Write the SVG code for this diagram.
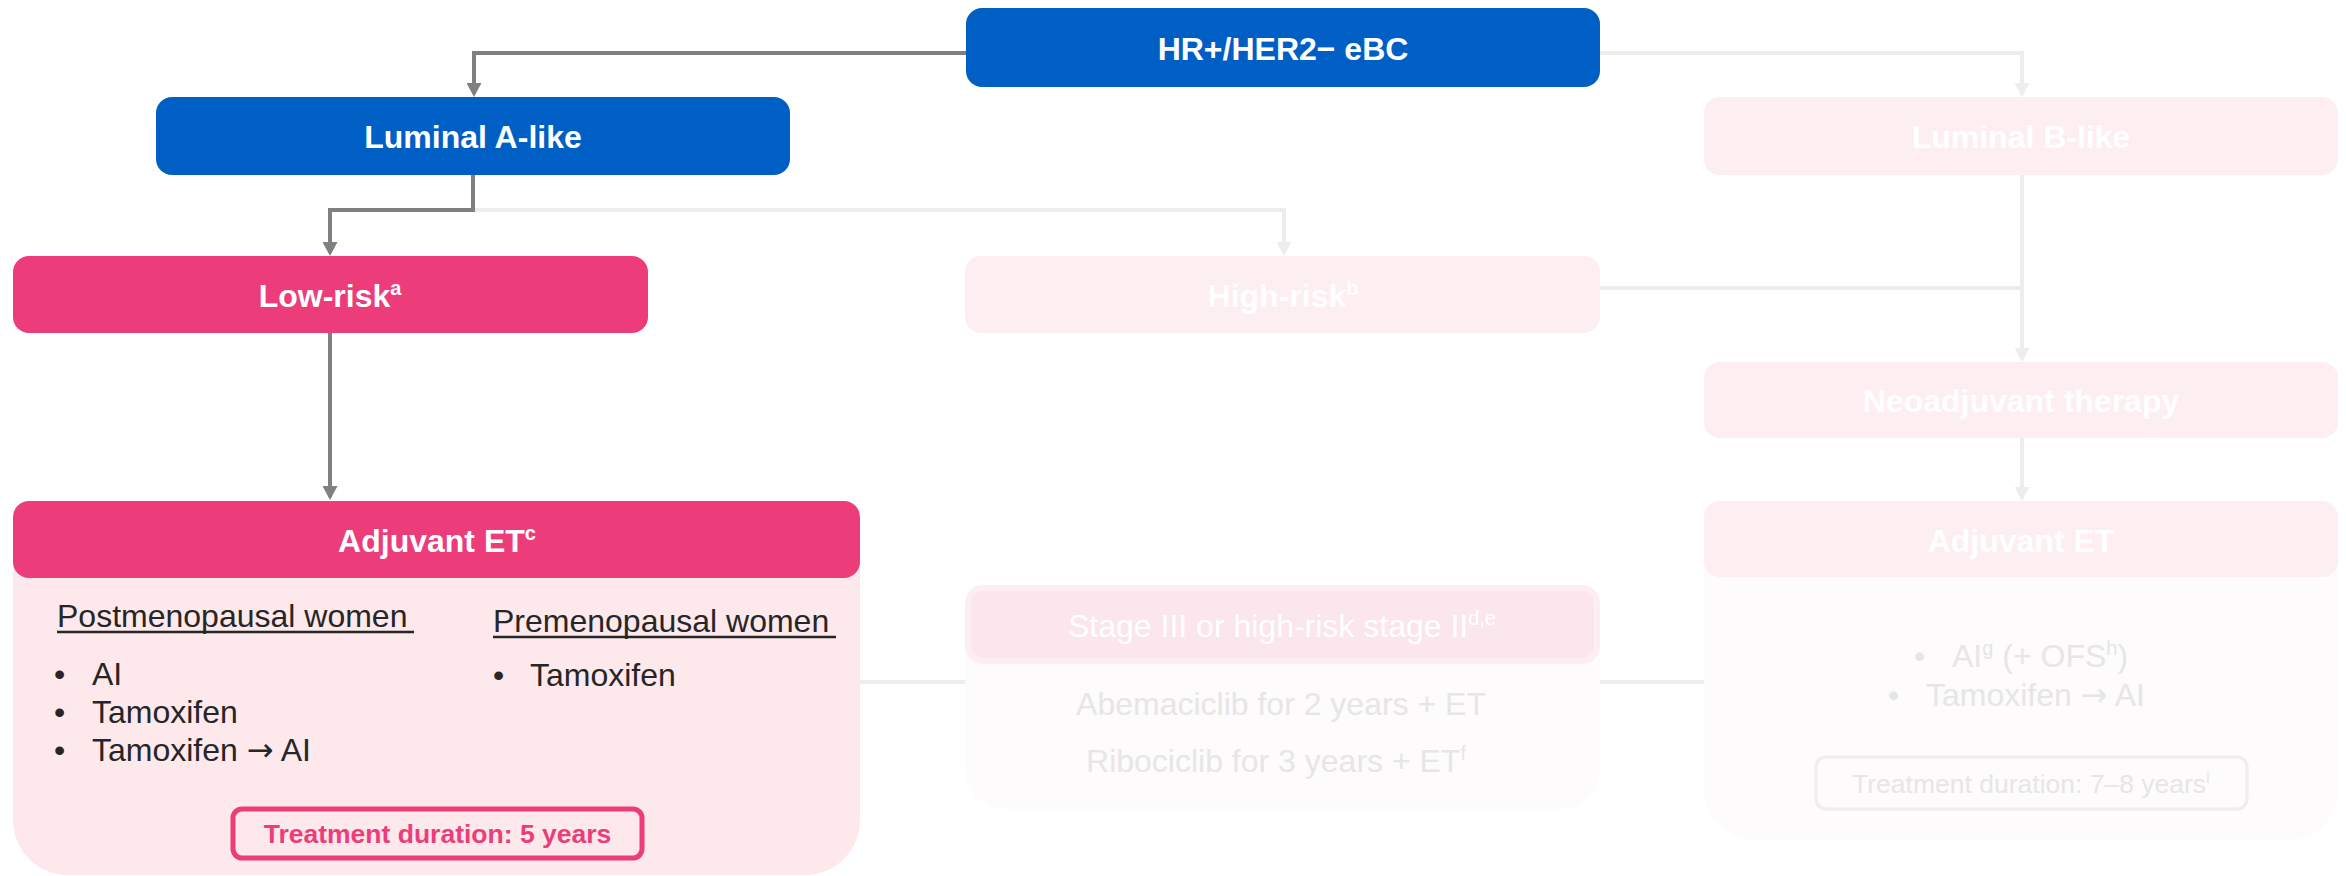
<svg xmlns="http://www.w3.org/2000/svg" width="2346" height="876" viewBox="0 0 2346 876">
<style>
  text { font-family: "Liberation Sans", Arial, sans-serif; }
  .hb { font-weight: bold; font-size: 32px; fill: #ffffff; text-anchor: middle; }
  .body { font-size: 32px; fill: #262626; }
  .fade { font-size: 32px; fill: #e6e6e6; }
  .wht { font-size: 32px; fill: #ffffff; text-anchor: middle; }
  .sup { font-size: 20px; }
  .arr { font-family: "DejaVu Sans", sans-serif; }
  .gl { fill: none; stroke: #808080; stroke-width: 4; }
  .ll { fill: none; stroke: #ededed; stroke-width: 4; }
  .blue { fill: #005fc4; }
  .pink { fill: #ec3d7a; }
  .fnode { fill: #fdeef2; }
</style>
<defs>
  <marker id="ag" viewBox="0 0 14 15" refX="11" refY="7.5" markerWidth="14" markerHeight="15" orient="auto" markerUnits="userSpaceOnUse">
    <path d="M0,0 L14,7.5 L0,15 Z" fill="#808080"/>
  </marker>
  <marker id="al" viewBox="0 0 14 15" refX="11" refY="7.5" markerWidth="14" markerHeight="15" orient="auto" markerUnits="userSpaceOnUse">
    <path d="M0,0 L14,7.5 L0,15 Z" fill="#ededed"/>
  </marker>
</defs>

<g id="connectors">
  <path class="ll" d="M860,682 H1704"/>
  <path class="ll" d="M1600,53 H2022 V94" marker-end="url(#al)"/>
  <path class="ll" d="M473,210 H1284 V253" marker-end="url(#al)"/>
  <path class="ll" d="M1600,288 H2022"/>
  <path class="ll" d="M2022,175 V359" marker-end="url(#al)"/>
  <path class="ll" d="M2022,438 V498" marker-end="url(#al)"/>
  <path class="gl" d="M966,53 H474 V94" marker-end="url(#ag)"/>
  <path class="gl" d="M473,175 V210 H330 V253" marker-end="url(#ag)"/>
  <path class="gl" d="M330,333 V497" marker-end="url(#ag)"/>
</g>

<g id="hr-her2-ebc">
  <rect class="blue" x="966" y="8" width="634" height="79" rx="16"/>
  <text class="hb" x="1283" y="60">HR+/HER2− eBC</text>
</g>

<g id="luminal-a">
  <rect class="blue" x="156" y="97" width="634" height="78" rx="16"/>
  <text class="hb" x="473" y="148">Luminal A-like</text>
</g>

<g id="luminal-b">
  <rect class="fnode" x="1704" y="97" width="634" height="78" rx="16"/>
  <text class="hb" x="2021" y="148">Luminal B-like</text>
</g>

<g id="low-risk">
  <rect class="pink" x="13" y="256" width="635" height="77" rx="16"/>
  <text class="hb" x="330" y="307">Low-risk<tspan class="sup" dy="-12">a</tspan></text>
</g>

<g id="high-risk">
  <rect class="fnode" x="965" y="256" width="635" height="77" rx="16"/>
  <text class="hb" x="1283" y="307">High-risk<tspan class="sup" dy="-12">b</tspan></text>
</g>

<g id="neoadjuvant">
  <rect class="fnode" x="1704" y="362" width="634" height="76" rx="16"/>
  <text class="hb" x="2021" y="412">Neoadjuvant therapy</text>
</g>

<g id="adjuvant-et-left">
  <path d="M13,517 A16,16 0 0 1 29,501 H844 A16,16 0 0 1 860,517 V820 A55,55 0 0 1 805,875 H68 A55,55 0 0 1 13,820 Z" fill="#fde8eb"/>
  <rect class="pink" x="13" y="501" width="847" height="77" rx="16"/>
  <text class="hb" x="437" y="552">Adjuvant ET<tspan class="sup" dy="-12">c</tspan></text>
  <text class="body" x="57" y="627">Postmenopausal women</text>
  <line x1="57" y1="632" x2="414" y2="632" stroke="#262626" stroke-width="2.5"/>
  <text class="body" x="54" y="685" fill="#000">•</text>
  <text class="body" x="92" y="685">AI</text>
  <text class="body" x="54" y="723">•</text>
  <text class="body" x="92" y="723">Tamoxifen</text>
  <text class="body" x="54" y="761">•</text>
  <text class="body" x="92" y="761">Tamoxifen <tspan class="arr">→</tspan> AI</text>
  <text class="body" x="493" y="632">Premenopausal women</text>
  <line x1="493" y1="637" x2="836" y2="637" stroke="#262626" stroke-width="2.5"/>
  <text class="body" x="493" y="686">•</text>
  <text class="body" x="530" y="686">Tamoxifen</text>
  <rect x="233" y="809" width="409" height="49" rx="9" fill="none" stroke="#ec3d7a" stroke-width="5"/>
  <text x="437.5" y="843" font-size="26.5" font-weight="bold" fill="#ec3d7a" text-anchor="middle">Treatment duration: 5 years</text>
</g>

<g id="stage-iii">
  <path d="M965,603 A18,18 0 0 1 983,585 H1582 A18,18 0 0 1 1600,603 V769 A40,40 0 0 1 1560,809 H1005 A40,40 0 0 1 965,769 Z" fill="#fdfbfc"/>
  <rect x="968" y="588" width="629" height="73" rx="15" fill="#fae6ec" stroke="#fdeef2" stroke-width="6"/>
  <text class="wht" x="1282" y="637">Stage III or high-risk stage II<tspan class="sup" dy="-12">d,e</tspan></text>
  <text class="fade" x="1281" y="715" text-anchor="middle">Abemaciclib for 2 years + ET</text>
  <text class="fade" x="1276" y="772" text-anchor="middle">Ribociclib for 3 years + ET<tspan class="sup" dy="-12">f</tspan></text>
</g>

<g id="adjuvant-et-right">
  <path d="M1704,517 A16,16 0 0 1 1720,501 H2322 A16,16 0 0 1 2338,517 V790 A50,50 0 0 1 2288,840 H1754 A50,50 0 0 1 1704,790 Z" fill="#fdfbfc"/>
  <rect class="fnode" x="1704" y="501" width="634" height="76" rx="16"/>
  <text class="hb" x="2021" y="552">Adjuvant ET</text>
  <text class="fade" x="1914" y="667">•</text>
  <text class="fade" x="1952" y="667">AI<tspan class="sup" dy="-12">g</tspan><tspan dy="12"> (+ OFS</tspan><tspan class="sup" dy="-12">h</tspan><tspan dy="12">)</tspan></text>
  <text class="fade" x="1888" y="706">•</text>
  <text class="fade" x="1926" y="706">Tamoxifen <tspan class="arr">→</tspan> AI</text>
  <rect x="1816" y="757" width="431" height="52" rx="10" fill="none" stroke="#ededed" stroke-width="3"/>
  <text x="2031" y="793" font-size="26.5" fill="#e6e6e6" text-anchor="middle">Treatment duration: 7–8 years<tspan font-size="17" dy="-10">i</tspan></text>
</g>
</svg>
